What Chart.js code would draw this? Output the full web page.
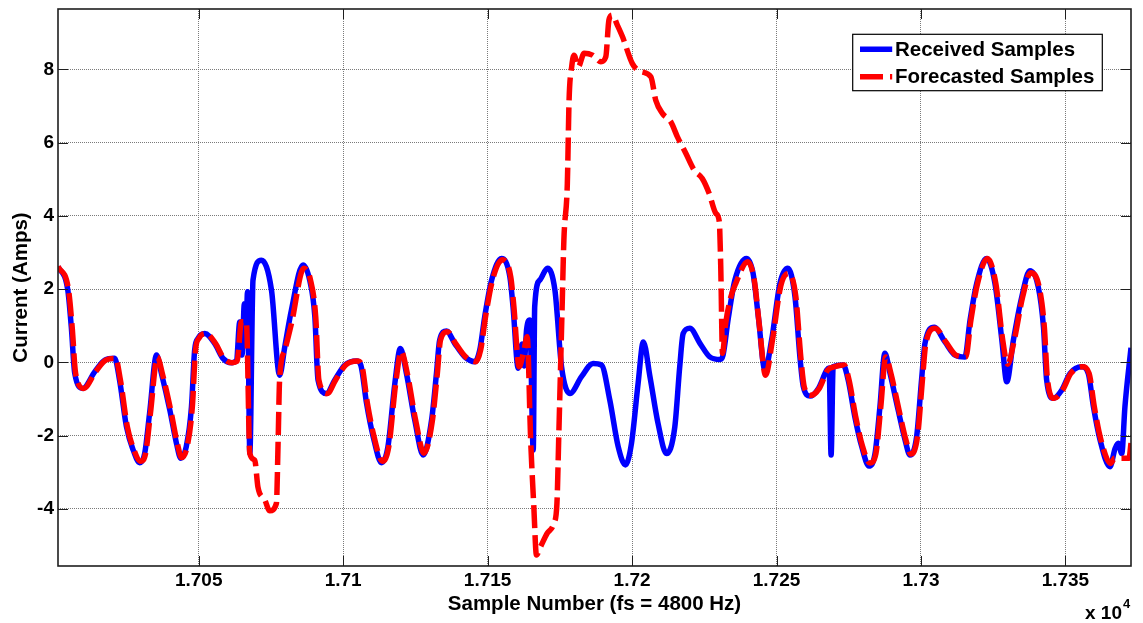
<!DOCTYPE html>
<html>
<head>
<meta charset="utf-8">
<script src="https://cdn.jsdelivr.net/npm/chart.js@4/dist/chart.umd.min.js"></script>
<style>
  html, body { margin: 0; padding: 0; background: #ffffff; }
  #wrap { width: 1143px; height: 623px; }
</style>
</head>
<body>
<div id="wrap"><canvas id="chart" width="1143" height="623"></canvas></div>
<script>
// Received current samples: [sample number, amps]
const receivedSamples = [
  [17001.3, 2.62], [17004.7, 1.97], [17005.9, 0.97], [17007.1, -0.30], [17009.9, -0.71],
  [17014.0, -0.26], [17017.5, 0.06], [17020.9, 0.11], [17022.6, -0.48], [17025.0, -1.76],
  [17027.3, -2.39], [17029.6, -2.74], [17031.3, -2.49], [17033.0, -1.39], [17035.4, 0.20],
  [17037.1, -0.30], [17040.0, -1.30], [17042.3, -2.21], [17043.8, -2.62], [17045.7, -2.30],
  [17047.5, -1.21], [17048.6, 0.34], [17049.8, 0.66], [17052.1, 0.79], [17055.5, 0.52],
  [17058.4, 0.11], [17061.3, -0.01], [17063.1, 0.06], [17064.2, 1.10], [17065.0, 0.20],
  [17065.8, 1.60], [17066.3, 0.50], [17066.9, 1.93], [17067.7, -2.49], [17068.8, 2.25],
  [17071.7, 2.79], [17075.2, 1.97], [17078.0, -0.35], [17079.8, 0.43], [17082.1, 1.43],
  [17086.1, 2.66], [17088.4, 2.25], [17090.2, 1.25], [17091.3, -0.48], [17094.2, -0.85],
  [17097.1, -0.48], [17100.6, -0.07], [17104.6, 0.04], [17106.1, -0.07], [17108.1, -1.12],
  [17110.4, -2.03], [17113.3, -2.74], [17115.5, -2.30], [17117.9, -0.57], [17119.8, 0.38],
  [17121.9, -0.30], [17124.8, -1.58], [17127.7, -2.53], [17130.6, -1.58], [17132.3, -0.30],
  [17133.4, 0.61], [17135.8, 0.86], [17138.6, 0.52], [17142.1, 0.15], [17145.6, 0.02],
  [17147.3, 0.34], [17149.0, 1.25], [17151.4, 2.25], [17154.8, 2.84], [17157.7, 2.34],
  [17158.8, 1.52], [17160.6, -0.16], [17161.9, 0.50], [17162.6, -0.10], [17163.5, 0.90],
  [17164.6, 1.16], [17165.8, -2.39], [17166.3, 1.52], [17168.1, 2.25], [17170.7, 2.57],
  [17173.3, 1.97], [17175.6, -0.12], [17178.5, -0.85], [17182.5, -0.39], [17186.5, -0.03],
  [17189.4, -0.07], [17192.3, -1.03], [17195.2, -2.30], [17197.7, -2.80], [17199.8, -2.21],
  [17202.1, -0.57], [17203.9, 0.56], [17206.2, -0.39], [17209.0, -1.67], [17211.9, -2.49],
  [17214.8, -1.76], [17216.5, -0.12], [17217.7, 0.79], [17220.0, 0.93], [17223.5, 0.52],
  [17226.9, 0.15], [17230.4, 0.08], [17231.5, 0.20], [17233.3, 1.20], [17235.6, 2.25],
  [17239.6, 2.84], [17241.9, 2.43], [17243.7, 1.25], [17246.0, -0.21], [17248.3, 0.61],
  [17251.2, 2.16], [17253.9, 2.57], [17256.4, 1.79], [17258.1, 0.15], [17259.3, -0.67],
  [17261.6, -0.92], [17264.5, -0.71], [17267.4, -0.21], [17268.2, -0.15], [17268.9, -2.53],
  [17269.6, -0.12], [17273.1, -0.07], [17274.8, -0.48], [17277.1, -1.48], [17279.5, -2.30],
  [17282.0, -2.83], [17284.1, -2.49], [17285.8, -1.21], [17287.5, 0.25], [17289.3, -0.30],
  [17292.1, -1.30], [17294.5, -2.12], [17296.2, -2.53], [17298.5, -2.03], [17300.2, -0.48],
  [17301.4, 0.52], [17304.6, 0.96], [17308.3, 0.56], [17311.8, 0.20], [17315.2, 0.15],
  [17317.0, 1.16], [17319.3, 2.16], [17322.7, 2.84], [17325.6, 2.16], [17328.0, 0.61],
  [17329.7, -0.53], [17332.0, 0.61], [17334.9, 1.79], [17337.7, 2.50], [17340.6, 2.06],
  [17342.4, 0.97], [17343.5, -0.48], [17345.8, -0.98], [17348.7, -0.76], [17351.6, -0.30],
  [17355.6, -0.12], [17357.9, -0.30], [17359.7, -1.21], [17362.0, -2.12], [17365.4, -2.85],
  [17367.2, -2.35], [17368.3, -2.21], [17369.5, -2.49], [17370.6, -1.21], [17372.7, 0.40]
];

// Forecasted current samples: [sample number, amps]
const forecastedSamples = [
  [17001.3, 2.62], [17004.9, 2.00], [17006.2, 0.97], [17007.4, -0.30], [17010.2, -0.71],
  [17014.3, -0.26], [17017.8, 0.06], [17021.2, 0.11], [17022.9, -0.48], [17025.3, -1.76],
  [17027.6, -2.39], [17029.9, -2.70], [17031.6, -2.49], [17033.3, -1.39], [17035.7, 0.15],
  [17037.4, -0.30], [17040.3, -1.30], [17042.6, -2.21], [17044.1, -2.60], [17046.0, -2.30],
  [17047.8, -1.21], [17048.9, 0.34], [17050.1, 0.66], [17052.4, 0.79], [17055.8, 0.52],
  [17058.7, 0.11], [17061.6, -0.01], [17063.3, 0.03], [17064.8, 1.11], [17066.5, 1.11],
  [17067.7, -2.49], [17069.4, -2.67], [17070.5, -3.40], [17072.9, -3.76], [17074.6, -4.05],
  [17076.9, -3.85], [17077.5, -2.12], [17078.0, -0.48], [17079.8, 0.34], [17082.1, 1.06],
  [17086.4, 2.57], [17088.7, 2.25], [17090.5, 1.25], [17091.6, -0.48], [17094.5, -0.85],
  [17097.4, -0.48], [17100.9, -0.07], [17104.9, 0.04], [17106.4, -0.07], [17108.4, -1.12],
  [17110.7, -2.03], [17113.6, -2.70], [17115.8, -2.30], [17118.2, -0.57], [17120.1, 0.30],
  [17122.2, -0.30], [17125.1, -1.58], [17128.0, -2.48], [17130.9, -1.58], [17132.6, -0.30],
  [17133.7, 0.61], [17136.1, 0.84], [17138.9, 0.52], [17142.4, 0.15], [17145.9, 0.02],
  [17147.6, 0.34], [17149.3, 1.25], [17151.7, 2.25], [17155.1, 2.80], [17158.0, 2.34],
  [17159.1, 1.52], [17160.9, -0.12], [17162.6, 0.34], [17163.7, 0.70], [17164.9, -2.12],
  [17166.0, -3.94], [17166.9, -5.26], [17168.3, -5.04], [17170.6, -4.67], [17172.9, -4.40],
  [17174.0, -3.85], [17174.6, -2.12], [17175.2, -0.30], [17175.8, 1.52], [17176.4, 3.34],
  [17177.6, 4.89], [17178.2, 7.16], [17179.1, 8.07], [17179.9, 8.39], [17181.4, 8.07],
  [17183.4, 8.44], [17186.3, 8.39], [17189.2, 8.21], [17190.9, 8.34], [17192.0, 9.35],
  [17193.2, 9.48], [17194.9, 9.21], [17196.7, 8.89], [17200.1, 8.16], [17203.0, 7.94],
  [17206.5, 7.80], [17208.2, 7.16], [17210.5, 6.80], [17213.4, 6.57], [17215.7, 6.16],
  [17218.6, 5.71], [17221.5, 5.25], [17224.3, 5.02], [17226.7, 4.61], [17229.0, 4.07],
  [17230.2, 3.84], [17230.7, 2.61], [17231.3, 0.25], [17232.4, 1.06], [17234.2, 1.79],
  [17235.9, 2.16], [17240.0, 2.75], [17242.3, 2.25], [17244.0, 1.06], [17246.2, -0.35],
  [17248.6, 0.61], [17251.5, 2.10], [17254.2, 2.43], [17256.7, 1.79], [17258.4, 0.15],
  [17259.6, -0.67], [17261.9, -0.90], [17264.8, -0.71], [17267.7, -0.21], [17269.9, -0.12],
  [17273.4, -0.07], [17275.1, -0.48], [17277.4, -1.48], [17279.8, -2.30], [17282.3, -2.75],
  [17284.4, -2.49], [17286.1, -1.21], [17287.8, 0.15], [17289.6, -0.30], [17292.4, -1.30],
  [17294.8, -2.12], [17296.5, -2.50], [17298.8, -2.03], [17300.5, -0.48], [17301.7, 0.52],
  [17304.9, 0.93], [17308.6, 0.56], [17312.1, 0.20], [17315.5, 0.15], [17317.3, 1.16],
  [17319.6, 2.16], [17323.0, 2.84], [17325.9, 2.16], [17328.3, 0.61], [17330.0, -0.05],
  [17332.3, 0.61], [17335.2, 1.79], [17338.0, 2.45], [17340.9, 2.06], [17342.7, 0.97],
  [17343.8, -0.48], [17346.1, -0.98], [17349.0, -0.76], [17351.9, -0.30], [17355.9, -0.12],
  [17358.2, -0.30], [17360.0, -1.21], [17362.3, -2.12], [17365.7, -2.76], [17367.0, -2.62],
  [17372.0, -2.62], [17372.7, -2.20]
];

// Axis ticks and limits
const xTickValues = [17050, 17100, 17150, 17200, 17250, 17300, 17350];
const yTickValues = [-4, -2, 0, 2, 4, 6, 8];
const xLimits = [17001.3, 17372.7];
const yLimits = [-5.56, 9.65];

const seriesLabels = ['Received Samples', 'Forecasted Samples'];
const xTitle = 'Sample Number (fs = 4800 Hz)';
const yTitle = 'Current (Amps)';

const FONT = '"Liberation Sans", Arial, Helvetica, sans-serif';
const toPoints = arr => arr.map(p => ({ x: p[0], y: p[1] }));

// Box, inward tick marks, legend and exponent label
const axesDecor = {
  id: 'axesDecor',
  afterDatasetsDraw(chart) {
    const { ctx, chartArea: a, scales } = chart;
    const xs = scales.x, ys = scales.y;
    ctx.save();
    ctx.setLineDash([]);
    ctx.strokeStyle = '#1e1e1e';
    ctx.lineWidth = 1;
    const tl = 10;
    const seg = (x1, y1, x2, y2) => { ctx.beginPath(); ctx.moveTo(x1, y1); ctx.lineTo(x2, y2); ctx.stroke(); };
    xs.ticks.forEach(t => {
      const px = Math.round(xs.getPixelForValue(t.value)) + 0.5;
      seg(px, a.bottom, px, a.bottom - tl);
      seg(px, a.top, px, a.top + tl);
    });
    ys.ticks.forEach(t => {
      const py = Math.round(ys.getPixelForValue(t.value)) + 0.5;
      seg(a.left, py, a.left + tl, py);
      seg(a.right, py, a.right - tl, py);
    });
    ctx.lineWidth = 1.6;
    ctx.strokeRect(a.left, a.top, a.right - a.left, a.bottom - a.top);

    // legend
    const bw = 249.6, bh = 56.4;
    const bx = a.right - 278.3, by = a.top + 25.3;
    ctx.fillStyle = '#ffffff';
    ctx.fillRect(bx, by, bw, bh);
    ctx.lineWidth = 1.2;
    ctx.strokeStyle = '#000000';
    ctx.strokeRect(bx, by, bw, bh);
    const ds = chart.data.datasets;
    const rows = [by + 15, by + 42.4];
    ds.forEach((d, i) => {
      ctx.save();
      ctx.strokeStyle = d.borderColor;
      ctx.lineWidth = d.borderWidth;
      ctx.lineCap = 'butt';
      ctx.setLineDash(d.borderDash || []);
      seg(bx + 7.3, rows[i], bx + 39.5, rows[i]);
      ctx.restore();
      ctx.fillStyle = '#000000';
      ctx.font = 'bold 20.5px ' + FONT;
      ctx.textAlign = 'left';
      ctx.textBaseline = 'middle';
      ctx.fillText(d.label, bx + 42.3, rows[i] + 1);
    });

    // x 10^4 multiplier
    ctx.fillStyle = '#000000';
    ctx.textBaseline = 'middle';
    ctx.textAlign = 'left';
    ctx.font = 'bold 19px ' + FONT;
    ctx.fillText('x 10', a.right - 46, 614);
    ctx.font = 'bold 13px ' + FONT;
    ctx.fillText('4', a.right - 8, 604);
    ctx.restore();
  }
};

const tickFont = { family: FONT, size: 19, weight: 'bold' };
const titleFont = { family: FONT, size: 20.5, weight: 'bold' };

new Chart(document.getElementById('chart'), {
  type: 'line',
  data: {
    datasets: [
      {
        label: seriesLabels[0],
        data: toPoints(receivedSamples),
        borderColor: '#0000ff',
        borderWidth: 5.5,
        pointRadius: 0,
        borderJoinStyle: 'round',
        cubicInterpolationMode: 'monotone',
        fill: false,
        order: 2
      },
      {
        label: seriesLabels[1],
        data: toPoints(forecastedSamples),
        borderColor: '#ff0000',
        borderWidth: 5.5,
        borderDash: [23, 7],
        pointRadius: 0,
        borderJoinStyle: 'round',
        cubicInterpolationMode: 'monotone',
        fill: false,
        order: 1
      }
    ]
  },
  options: {
    responsive: false,
    animation: false,
    devicePixelRatio: 1,
    layout: { padding: { top: 9, right: 12, left: 0, bottom: 0 } },
    plugins: { legend: { display: false }, tooltip: { enabled: false } },
    scales: {
      x: {
        type: 'linear',
        min: xLimits[0],
        max: xLimits[1],
        afterBuildTicks: s => { s.ticks = xTickValues.map(v => ({ value: v })); },
        afterFit: s => { s.height = 57; s.paddingLeft = 0; s.paddingRight = 0; },
        grid: { color: '#7a7a7a', lineWidth: 1, drawTicks: false },
        border: { display: false, dash: [1, 1] },
        ticks: {
          color: '#000000', font: tickFont, padding: 3, maxRotation: 0, autoSkip: false,
          callback: v => String(v / 10000)
        },
        title: { display: true, text: xTitle, color: '#000000', font: titleFont, padding: { top: 0, bottom: 6 } }
      },
      y: {
        type: 'linear',
        min: yLimits[0],
        max: yLimits[1],
        afterBuildTicks: s => { s.ticks = yTickValues.map(v => ({ value: v })); },
        afterFit: s => { s.width = 58; s.paddingTop = 0; s.paddingBottom = 0; },
        grid: { color: '#7a7a7a', lineWidth: 1, drawTicks: false },
        border: { display: false, dash: [1, 1] },
        ticks: { color: '#000000', font: tickFont, padding: 4, callback: v => String(v) },
        title: { display: true, text: yTitle, color: '#000000', font: titleFont, padding: { top: 9, bottom: 0 } }
      }
    }
  },
  plugins: [axesDecor]
});
</script>
</body>
</html>
